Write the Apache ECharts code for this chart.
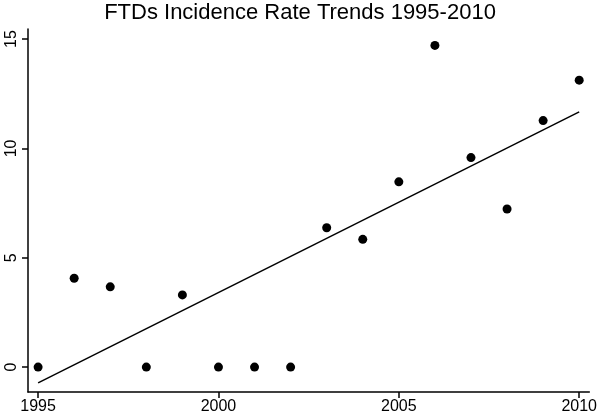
<!DOCTYPE html>
<html>
<head>
<meta charset="utf-8">
<script src="https://cdn.jsdelivr.net/npm/echarts@6/dist/echarts.min.js"></script>
<style>
  html, body { margin: 0; padding: 0; background: #fff; }
  #chart { width: 600px; height: 417px; }
</style>
</head>
<body>
<div id="chart"></div>
<script>
// incidence rate per year
const years = [1995, 1996, 1997, 1998, 1999, 2000, 2001, 2002, 2003, 2004, 2005, 2006, 2007, 2008, 2009, 2010]
const rates = [0, 4.06, 3.67, 0, 3.3, 0, 0, 0, 6.37, 5.84, 8.47, 14.71, 9.58, 7.23, 11.27, 13.12]
// fitted trend line end points
const fitYears = [1995, 2010]
const fitValues = [-0.72, 11.67]
const xTicks = [1995, 2000, 2005, 2010]
const yTicks = [0, 5, 10, 15]

const FONT = '"Liberation Sans", Arial, sans-serif'
const axisLine = { show: true, onZero: false, lineStyle: { color: '#000', width: 1.5 } }
const axisTick = { show: true, length: 6, lineStyle: { color: '#000', width: 1.5 } }

const chart = echarts.init(document.getElementById('chart'))
chart.setOption({
  animation: false,
  title: {
    text: 'FTDs Incidence Rate Trends 1995-2010',
    left: 'center',
    top: -3,
    textStyle: { fontFamily: FONT, fontSize: 22, fontWeight: 'normal', color: '#000' },
  },
  grid: { left: 28, right: 10, top: 29, bottom: 25 },
  xAxis: {
    type: 'value',
    min: 1994.72,
    max: 2010.28,
    splitLine: { show: false },
    axisLine,
    axisTick: { ...axisTick, customValues: xTicks },
    axisLabel: {
      customValues: xTicks,
      formatter: (v) => String(v),
      fontFamily: FONT, fontSize: 16, color: '#000', margin: 7,
    },
  },
  yAxis: {
    type: 'value',
    min: -1.14,
    max: 15.46,
    splitLine: { show: false },
    axisLine,
    axisTick: { ...axisTick, customValues: yTicks },
    axisLabel: {
      customValues: yTicks, rotate: 90,
      formatter: (v) => String(v),
      fontFamily: FONT, fontSize: 16, color: '#000', margin: 8,
    },
  },
  series: [
    {
      type: 'scatter',
      data: years.map((y, i) => [y, rates[i]]),
      symbolSize: 9,
      itemStyle: { color: '#000', opacity: 1 },
    },
    {
      type: 'line',
      data: fitYears.map((y, i) => [y, fitValues[i]]),
      showSymbol: false,
      lineStyle: { color: '#000', width: 1.5 },
    },
  ],
})
</script>
</body>
</html>
